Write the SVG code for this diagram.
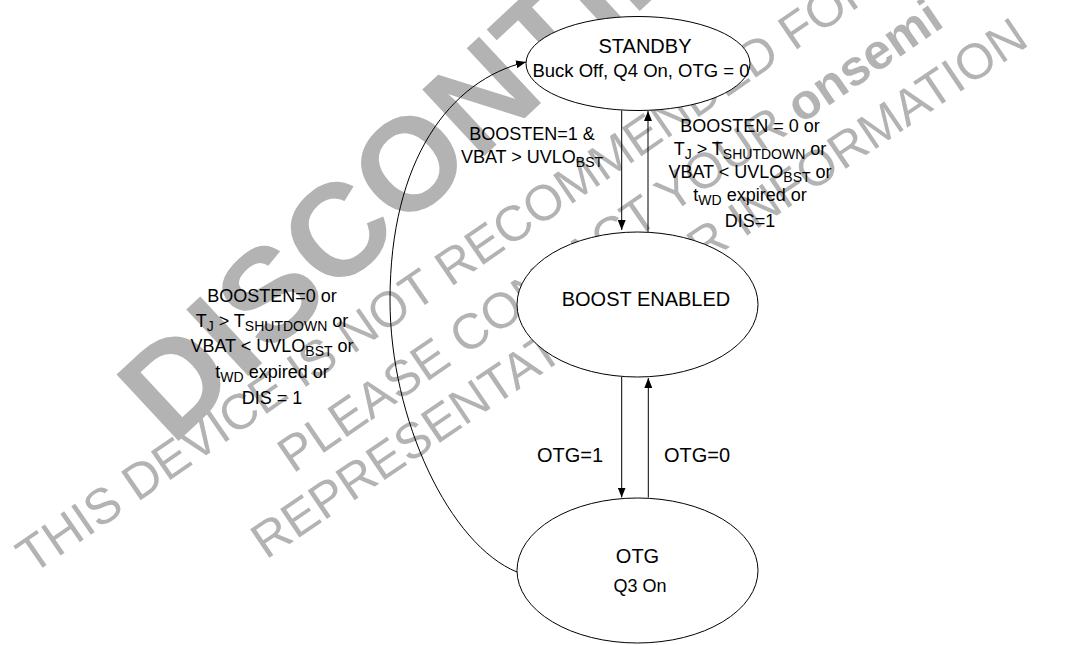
<svg xmlns="http://www.w3.org/2000/svg" width="1078" height="645" viewBox="0 0 1078 645">
<style>
.wm{font-family:"Liberation Sans",Arial,sans-serif;fill:#b3b3b3;font-size:50px}
.big{font-family:"Liberation Sans",Arial,sans-serif;fill:#b3b3b3;font-size:132px;font-weight:bold}
.n{fill:#fff;stroke:#000;stroke-width:1}
.t{font-family:"Liberation Sans",Arial,sans-serif;fill:#000;font-size:18px;text-anchor:middle}
.t20{font-size:20px}
.s{font-size:14px}
.c{fill:none;stroke:#000;stroke-width:1}
</style>
<defs>
<marker id="ah" viewBox="0 0 10 8" refX="10" refY="4" markerWidth="10" markerHeight="8" markerUnits="userSpaceOnUse" orient="auto"><path d="M0,0L10,4L0,8z" fill="#000"/></marker>
</defs>
<g id="watermark">
<text class="big" transform="translate(172,447) rotate(-43)">DISCONTINUED</text>
<text class="wm" transform="translate(32,575) rotate(-34.5)">THIS DEVICE IS NOT RECOMMENDED FOR</text>
<text class="wm" transform="translate(293,474) rotate(-34.5)">PLEASE CONTACT YOUR <tspan font-weight="bold">onsemi</tspan></text>
<text class="wm" transform="translate(266,560) rotate(-34)">REPRESENTATIVE FOR INFORMATION</text>
</g>
<g id="connectors">
<path class="c" d="M621.7,110.5V230" marker-end="url(#ah)"/>
<path class="c" d="M648,232V111" marker-end="url(#ah)"/>
<path class="c" d="M621.7,377V497.5" marker-end="url(#ah)"/>
<path class="c" d="M648.3,497.5V378" marker-end="url(#ah)"/>
<path class="c" d="M517,572C450,545 390,420 390,300C390,160 450,80 526,62" marker-end="url(#ah)"/>
<text class="t" x="532" y="140">BOOSTEN=1 &amp;</text>
<text class="t" x="532" y="163">VBAT &gt; UVLO<tspan class="s" dy="4">BST</tspan></text>
<text class="t" x="750" y="132">BOOSTEN = 0 or</text>
<text class="t" x="750" y="155">T<tspan class="s" dy="4">J</tspan><tspan dy="-4"> &gt; T</tspan><tspan class="s" dy="4">SHUTDOWN</tspan><tspan dy="-4"> or</tspan></text>
<text class="t" x="750" y="178">VBAT &lt; UVLO<tspan class="s" dy="4">BST</tspan><tspan dy="-4"> or</tspan></text>
<text class="t" x="750" y="201">t<tspan class="s" dy="4">WD</tspan><tspan dy="-4"> expired or</tspan></text>
<text class="t" x="750" y="227">DIS=1</text>
<text class="t" x="272" y="302">BOOSTEN=0 or</text>
<text class="t" x="272" y="327">T<tspan class="s" dy="4">J</tspan><tspan dy="-4"> &gt; T</tspan><tspan class="s" dy="4">SHUTDOWN</tspan><tspan dy="-4"> or</tspan></text>
<text class="t" x="272" y="352">VBAT &lt; UVLO<tspan class="s" dy="4">BST</tspan><tspan dy="-4"> or</tspan></text>
<text class="t" x="272" y="378">t<tspan class="s" dy="4">WD</tspan><tspan dy="-4"> expired or</tspan></text>
<text class="t" x="272" y="404">DIS = 1</text>
<text class="t t20" x="570" y="462">OTG=1</text>
<text class="t t20" x="697" y="462">OTG=0</text>
</g>
<g id="standby">
<ellipse class="n" cx="638" cy="63.5" rx="112" ry="47"/>
<text class="t t20" x="645" y="53">STANDBY</text>
<text class="t" x="641" y="77" style="font-size:18.5px">Buck Off, Q4 On, OTG = 0</text>
</g>
<g id="boost-enabled">
<ellipse class="n" cx="637.5" cy="304.5" rx="120.5" ry="72.5"/>
<text class="t t20" x="646" y="306">BOOST ENABLED</text>
</g>
<g id="otg">
<ellipse class="n" cx="637.5" cy="570.5" rx="120.5" ry="72.5"/>
<text class="t t20" x="637.5" y="563">OTG</text>
<text class="t" x="640" y="592">Q3 On</text>
</g>
</svg>
